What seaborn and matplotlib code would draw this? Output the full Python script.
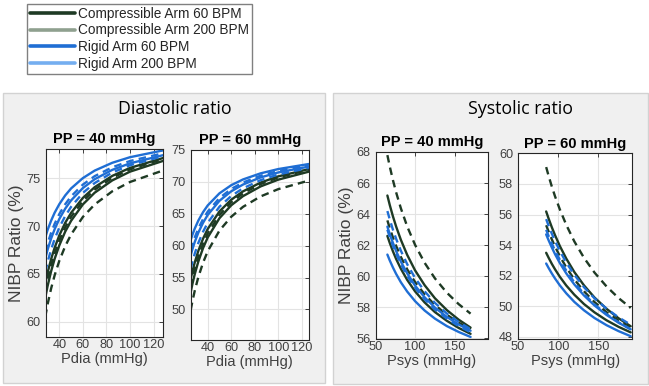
import numpy as np
import pandas as pd
import matplotlib
matplotlib.use('Agg')
import matplotlib.pyplot as plt
from matplotlib.lines import Line2D
from matplotlib.patches import Rectangle
import seaborn as sns

sns.set_theme(style='white')
plt.rcParams['font.family'] = ['Liberation Sans', 'DejaVu Sans']

W, H = 649, 386

# curve order inside every panel: rigid solid/dashed x2, then compressible solid/dashed x2
ARMS = ['Rigid'] * 4 + ['Compressible'] * 4
STYLES = ['solid', 'dashed'] * 4

LEGEND_LABELS = ['Compressible Arm 60 BPM', 'Compressible Arm 200 BPM',
                 'Rigid Arm 60 BPM', 'Rigid Arm 200 BPM']

# Diastolic ratio, PP = 40 mmHg
DIA40_X = [28, 30, 33, 36, 40, 45, 50, 60, 70, 85, 100, 128]
DIA40_Y = [
    [68.8, 69.58, 70.56, 71.39, 72.29, 73.20, 73.93, 75.01, 75.79, 76.61, 77.19, 77.9],
    [67.3, 68.18, 69.30, 70.23, 71.26, 72.28, 73.10, 74.33, 75.21, 76.14, 76.79, 77.6],
    [66.6, 67.52, 68.69, 69.67, 70.75, 71.82, 72.68, 73.97, 74.89, 75.87, 76.55, 77.4],
    [65.2, 66.23, 67.55, 68.64, 69.85, 71.05, 72.01, 73.46, 74.49, 75.59, 76.35, 77.3],
    [64.0, 65.12, 66.54, 67.73, 69.03, 70.34, 71.38, 72.94, 74.06, 75.24, 76.07, 77.1],
    [63.2, 64.38, 65.88, 67.13, 68.50, 69.87, 70.97, 72.62, 73.80, 75.04, 75.92, 77.0],
    [62.5, 63.72, 65.27, 66.57, 67.99, 69.42, 70.55, 72.26, 73.48, 74.77, 75.68, 76.8],
    [60.5, 61.81, 63.47, 64.85, 66.38, 67.90, 69.12, 70.95, 72.25, 73.63, 74.60, 75.8],
]

# Diastolic ratio, PP = 60 mmHg
DIA60_X = [25.5, 27, 29, 32, 36, 40, 50, 60, 70, 85, 100, 126]
DIA60_Y = [
    [60.9, 61.73, 62.70, 63.93, 65.25, 66.31, 68.21, 69.48, 70.38, 71.34, 72.01, 72.8],
    [59.3, 60.23, 61.31, 62.69, 64.16, 65.34, 67.47, 68.89, 69.90, 70.97, 71.72, 72.6],
    [58.5, 59.47, 60.60, 62.04, 63.58, 64.82, 67.04, 68.52, 69.58, 70.70, 71.48, 72.4],
    [56.4, 57.50, 58.79, 60.42, 62.18, 63.58, 66.11, 67.79, 68.99, 70.27, 71.16, 72.2],
    [54.8, 56.00, 57.40, 59.18, 61.09, 62.62, 65.37, 67.20, 68.51, 69.89, 70.86, 72.0],
    [53.6, 54.87, 56.37, 58.26, 60.29, 61.92, 64.84, 66.79, 68.19, 69.66, 70.69, 71.9],
    [52.7, 54.02, 55.56, 57.51, 59.61, 61.29, 64.31, 66.33, 67.76, 69.29, 70.35, 71.6],
    [49.9, 51.31, 52.97, 55.07, 57.32, 59.13, 62.37, 64.53, 66.08, 67.72, 68.86, 70.2],
]

# Systolic ratio, PP = 40 mmHg
SYS40_X = [65, 68, 72, 76, 82, 90, 100, 112, 125, 140, 155, 170]
SYS40_Y = [
    [63.2, 62.72, 62.15, 61.63, 60.95, 60.19, 59.40, 58.65, 57.99, 57.39, 56.90, 56.5],
    [64.2, 63.66, 63.00, 62.42, 61.65, 60.78, 59.89, 59.04, 58.29, 57.61, 57.06, 56.6],
    [61.4, 61.02, 60.57, 60.16, 59.62, 59.02, 58.40, 57.80, 57.28, 56.80, 56.42, 56.1],
    [63.0, 62.53, 61.96, 61.45, 60.78, 60.03, 59.26, 58.52, 57.87, 57.28, 56.80, 56.4],
    [65.2, 64.59, 63.86, 63.21, 62.35, 61.38, 60.38, 59.43, 58.59, 57.83, 57.21, 56.7],
    [67.8, 67.07, 66.19, 65.41, 64.38, 63.21, 62.02, 60.87, 59.87, 58.95, 58.21, 57.6],
    [62.6, 62.15, 61.61, 61.12, 60.49, 59.77, 59.03, 58.32, 57.70, 57.14, 56.68, 56.3],
    [63.6, 63.10, 62.50, 61.96, 61.25, 60.45, 59.63, 58.84, 58.16, 57.53, 57.02, 56.6],
]

# Systolic ratio, PP = 60 mmHg
SYS60_X = [85, 88, 92, 96, 102, 110, 120, 132, 145, 160, 175, 190]
SYS60_Y = [
    [54.7, 54.32, 53.85, 53.41, 52.83, 52.15, 51.43, 50.71, 50.06, 49.44, 48.93, 48.5],
    [55.7, 55.27, 54.75, 54.27, 53.62, 52.86, 52.06, 51.25, 50.53, 49.85, 49.28, 48.8],
    [52.8, 52.51, 52.15, 51.82, 51.37, 50.85, 50.29, 49.74, 49.24, 48.77, 48.38, 48.05],
    [55.0, 54.60, 54.10, 53.65, 53.04, 52.33, 51.57, 50.81, 50.13, 49.49, 48.95, 48.5],
    [56.2, 55.74, 55.17, 54.65, 53.94, 53.12, 52.24, 51.37, 50.58, 49.84, 49.22, 48.7],
    [59.1, 58.53, 57.83, 57.19, 56.33, 55.32, 54.24, 53.17, 52.21, 51.30, 50.54, 49.9],
    [53.5, 53.18, 52.78, 52.42, 51.93, 51.36, 50.76, 50.15, 49.61, 49.09, 48.66, 48.3],
    [55.3, 54.89, 54.38, 53.91, 53.28, 52.54, 51.76, 50.98, 50.28, 49.62, 49.06, 48.6],
]

DARK = '#1e3a24'
BLUE = '#1f6ed4'
DARK_LIGHT = '#8fa08f'
BLUE_LIGHT = '#74aef0'
TEXT_GRAY = '#404040'


def px_box(x0, y0, x1, y1):
    # pixel box (top-left origin) -> figure fraction rect
    return [x0 / W, 1 - y1 / H, (x1 - x0) / W, (y1 - y0) / H]


def panel_frame(xs, ys):
    rows = []
    for i, curve in enumerate(ys):
        for x, y in zip(xs, curve):
            rows.append((i, ARMS[i], STYLES[i], x, y))
    return pd.DataFrame(rows, columns=['curve', 'arm', 'style', 'x', 'y'])


def draw_panel(ax, xs, ys, xlim, ylim, xticks, yticks, title, xlabel, ylabel=None):
    df = panel_frame(xs, ys)
    sns.lineplot(data=df, x='x', y='y', hue='arm', style='style', units='curve',
                 estimator=None, sort=False, hue_order=['Compressible', 'Rigid'],
                 palette={'Rigid': BLUE, 'Compressible': DARK},
                 dashes={'solid': '', 'dashed': (3.2, 2.2)},
                 linewidth=1.7, legend=False, ax=ax)
    ax.set_xlim(*xlim)
    ax.set_ylim(*ylim)
    ax.set_xticks(xticks)
    ax.set_yticks(yticks)
    ax.grid(True, color='#e3e3e3', linewidth=0.8)
    ax.set_axisbelow(True)
    ax.tick_params(direction='in', top=True, right=True, length=3, width=0.6,
                   color='#262626', labelsize=9.2, labelcolor=TEXT_GRAY)
    ax.tick_params(axis='x', pad=1.5)
    ax.tick_params(axis='y', pad=3.5)
    for s in ax.spines.values():
        s.set_color('#262626')
        s.set_linewidth(0.8)
    ax.set_title(title, fontsize=10.5, fontweight='bold', color='black', pad=4)
    ax.set_xlabel(xlabel, fontsize=10.5, color=TEXT_GRAY, labelpad=1)
    if ylabel:
        ax.set_ylabel(ylabel, fontsize=12.5, color=TEXT_GRAY, labelpad=2)
    else:
        ax.set_ylabel('')


fig = plt.figure(figsize=(W / 100, H / 100), dpi=100)
fig.patch.set_facecolor('white')

# grey group panels
for box in [(3, 93, 325, 383), (333, 93, 648, 384)]:
    r = px_box(*box)
    fig.add_artist(Rectangle((r[0], r[1]), r[2], r[3], transform=fig.transFigure,
                             facecolor='#f0f0f0', edgecolor='#d2d2d2', linewidth=1, zorder=-1))

fig.text(175 / W, 1 - 109 / H, 'Diastolic ratio', ha='center', va='center',
         fontsize=12.8, family=['Open Sans', 'DejaVu Sans'], color='black')
fig.text(520 / W, 1 - 109 / H, 'Systolic ratio', ha='center', va='center',
         fontsize=12.8, family=['Open Sans', 'DejaVu Sans'], color='black')

ax1 = fig.add_axes(px_box(45.7, 148.5, 163.3, 337))
draw_panel(ax1, DIA40_X, DIA40_Y, (28.4, 128.3), (58.4, 78.1), [40, 60, 80, 100, 120],
           [60, 65, 70, 75], 'PP = 40 mmHg', 'Pdia (mmHg)', 'NIBP Ratio (%)')

ax2 = fig.add_axes(px_box(190.7, 150, 309, 340))
draw_panel(ax2, DIA60_X, DIA60_Y, (25.5, 126.2), (45.2, 75), [40, 60, 80, 100, 120],
           [50, 55, 60, 65, 70, 75], 'PP = 60 mmHg', 'Pdia (mmHg)')

ax3 = fig.add_axes(px_box(375.5, 152, 488, 338.5))
draw_panel(ax3, SYS40_X, SYS40_Y, (50, 192), (56, 68), [50, 100, 150],
           [56, 58, 60, 62, 64, 66, 68], 'PP = 40 mmHg', 'Psys (mmHg)', 'NIBP Ratio (%)')

ax4 = fig.add_axes(px_box(518, 153.3, 632.3, 338.5))
draw_panel(ax4, SYS60_X, SYS60_Y, (50, 192), (47.9, 60), [50, 100, 150],
           [48, 50, 52, 54, 56, 58, 60], 'PP = 60 mmHg', 'Psys (mmHg)')

handles = [Line2D([], [], color=c, lw=2.6) for c in [DARK, DARK_LIGHT, BLUE, BLUE_LIGHT]]
fig.legend(handles, LEGEND_LABELS, loc='upper left', bbox_to_anchor=(27 / W, 1 - 4 / H),
           frameon=True, fancybox=False, edgecolor='#808080', facecolor='white',
           fontsize=9.8, handlelength=3.3, handletextpad=0.25, labelspacing=0.2,
           borderpad=0.2, borderaxespad=0, framealpha=1)

fig.savefig('out.png', dpi=100)
